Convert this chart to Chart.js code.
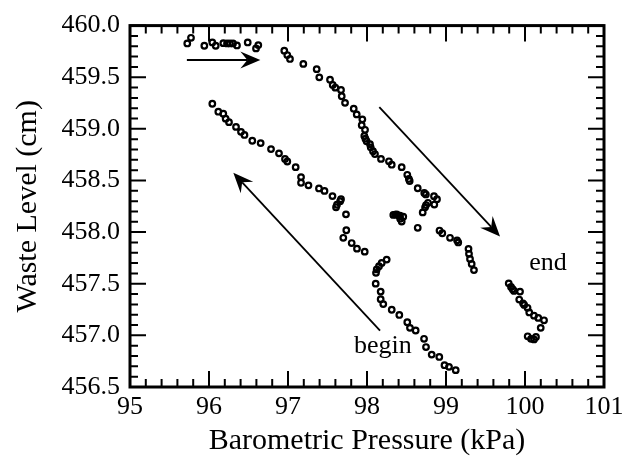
<!DOCTYPE html>
<html>
<head>
<meta charset="utf-8">
<script src="https://cdn.jsdelivr.net/npm/chart.js@4.4.0/dist/chart.umd.min.js"></script>
<style>
html,body{margin:0;padding:0;background:#fff;}
</style>
</head>
<body>
<canvas id="c" width="634" height="465"></canvas>
<script>
// Waste level vs barometric pressure

// =======================
// Data
const pressure = [
  99.123,99.038,98.981,98.915,98.819,98.747,98.722,98.616,98.544,98.510,98.409,98.313,98.206,98.173,98.173,98.110,
  98.114,98.123,98.152,98.186,98.249,97.971,97.873,97.806,97.700,97.738,97.734,97.608,97.620,97.660,97.671,97.563,
  97.462,97.392,97.259,97.165,97.165,97.097,96.991,96.962,96.886,96.785,96.654,96.548,96.449,96.405,96.342,96.253,
  96.211,96.181,96.118,96.042,
  95.725,95.772,95.941,96.042,96.085,96.181,96.228,96.266,96.304,96.354,96.490,96.595,96.624,
  96.953,96.991,97.025,97.194,97.363,97.396,97.532,97.566,97.599,97.671,97.680,97.722,97.832,97.870,97.941,97.933,
  97.975,97.966,97.980,97.995,98.038,98.047,98.076,98.101,98.177,98.278,98.313,98.439,98.510,98.530,98.540,98.642,
  98.725,98.745,98.848,98.886,98.852,98.772,98.747,98.735,98.705,
  98.333,98.355,98.376,98.400,98.418,98.459,98.439,98.420,98.642,98.918,98.953,99.051,99.140,99.155,99.285,99.291,
  99.304,99.325,99.354,
  99.794,99.823,99.844,99.861,99.937,99.927,99.975,99.990,100.032,100.054,100.114,100.168,100.241,100.199,100.034,
  100.076,100.139,100.114
];
const level = [
  456.663,456.695,456.711,456.791,456.814,456.887,456.967,457.047,457.073,457.127,457.198,457.248,457.303,457.351,457.424,457.501,
  457.606,457.639,457.670,457.702,457.734,457.811,457.840,457.894,457.945,458.018,458.172,458.241,458.265,458.300,458.319,458.349,
  458.399,458.423,458.453,458.478,458.533,458.629,458.684,458.709,458.763,458.804,458.862,458.885,458.941,458.971,459.019,459.065,
  459.099,459.147,459.166,459.243,
  459.827,459.882,459.805,459.837,459.805,459.830,459.827,459.827,459.827,459.808,459.837,459.779,459.811,
  459.757,459.715,459.677,459.629,459.578,459.499,459.476,459.425,459.399,459.377,459.316,459.252,459.195,459.140,459.092,459.036,
  458.991,458.931,458.905,458.880,458.852,458.821,458.784,458.756,458.709,458.686,458.653,458.629,458.555,458.515,458.495,458.425,
  458.380,458.365,458.348,458.319,458.267,458.284,458.262,458.240,458.191,
  458.166,458.170,458.172,458.160,458.159,458.150,458.102,458.130,458.042,458.015,457.989,457.945,457.920,457.900,457.838,457.790,
  457.740,457.692,457.632,
  457.504,457.469,457.447,457.430,457.424,457.347,457.310,457.295,457.267,457.222,457.191,457.169,457.146,457.073,456.991,
  456.967,456.985,456.961
];

// arrows: [x1, y1, x2(tip), y2(tip)] in data units
const arrows = [
  [95.72, 459.667, 96.65, 459.667],
  [98.156, 459.211, 99.684, 457.958],
  [98.165, 457.047, 96.308, 458.574]
];
const notes = [
  { text: 'begin', x: 98.20, y: 456.90 },
  { text: 'end', x: 100.29, y: 457.70 }
];

const FONT = "'Liberation Serif', 'Times New Roman', Times, serif";

// =======================
// Box round the plot with inward ticks
const boxPlugin = {
  id: 'plotBox',
  afterDraw(chart) {
    const ctx = chart.ctx;
    const a = chart.chartArea;
    const xs = chart.scales.x, ys = chart.scales.y;
    ctx.save();
    ctx.strokeStyle = 'black';
    ctx.lineWidth = 2;
    for (let i = 0; i <= 30; i++) {
      const px = xs.getPixelForValue(95 + i * 0.2);
      const len = (i % 5 === 0) ? 16 : 8;
      ctx.beginPath();
      ctx.moveTo(px, a.bottom); ctx.lineTo(px, a.bottom - len);
      ctx.moveTo(px, a.top); ctx.lineTo(px, a.top + len);
      ctx.stroke();
    }
    for (let i = 0; i <= 35; i++) {
      const py = ys.getPixelForValue(456.5 + i * 0.1);
      const len = (i % 5 === 0) ? 16 : 8;
      ctx.beginPath();
      ctx.moveTo(a.left, py); ctx.lineTo(a.left + len, py);
      ctx.moveTo(a.right, py); ctx.lineTo(a.right - len, py);
      ctx.stroke();
    }
    ctx.lineWidth = 3;
    ctx.strokeRect(a.left, a.top, a.right - a.left, a.bottom - a.top);
    ctx.restore();
  }
};

// =======================
// Arrows and notes
const notePlugin = {
  id: 'notes',
  afterDraw(chart) {
    const ctx = chart.ctx;
    const xs = chart.scales.x, ys = chart.scales.y;
    ctx.save();
    ctx.strokeStyle = 'black';
    ctx.fillStyle = 'black';
    ctx.lineWidth = 1.8;
    arrows.forEach(ar => {
      const x1 = xs.getPixelForValue(ar[0]), y1 = ys.getPixelForValue(ar[1]);
      const x2 = xs.getPixelForValue(ar[2]), y2 = ys.getPixelForValue(ar[3]);
      const ang = Math.atan2(y2 - y1, x2 - x1);
      const ux = Math.cos(ang), uy = Math.sin(ang);
      const nx = -uy, ny = ux;
      const L = 20, W = 8.5, N = 13;
      ctx.beginPath();
      ctx.moveTo(x1, y1);
      ctx.lineTo(x2 - N * ux, y2 - N * uy);
      ctx.stroke();
      ctx.beginPath();
      ctx.moveTo(x2, y2);
      ctx.lineTo(x2 - L * ux + W * nx, y2 - L * uy + W * ny);
      ctx.lineTo(x2 - N * ux, y2 - N * uy);
      ctx.lineTo(x2 - L * ux - W * nx, y2 - L * uy - W * ny);
      ctx.closePath();
      ctx.fill();
    });
    ctx.font = '26px ' + FONT;
    ctx.textAlign = 'center';
    ctx.textBaseline = 'middle';
    notes.forEach(n => {
      ctx.fillText(n.text, xs.getPixelForValue(n.x), ys.getPixelForValue(n.y));
    });
    ctx.restore();
  }
};

// =======================
// Chart
new Chart(document.getElementById('c'), {
  type: 'scatter',
  data: {
    datasets: [{
      data: pressure.map((p, i) => ({ x: p, y: level[i] })),
      pointStyle: 'circle',
      pointRadius: 2.8,
      borderWidth: 2.2,
      borderColor: 'black',
      backgroundColor: 'rgba(0,0,0,0)'
    }]
  },
  options: {
    responsive: false,
    animation: false,
    devicePixelRatio: 1,
    layout: { padding: { top: 22, right: 30, left: 0, bottom: 0 } },
    plugins: { legend: { display: false }, tooltip: { enabled: false } },
    scales: {
      x: {
        type: 'linear', min: 95, max: 101,
        grid: { display: false, drawTicks: false },
        border: { display: false },
        ticks: { stepSize: 1, color: 'black', padding: 5, font: { family: FONT, size: 26 } },
        title: { display: true, text: 'Barometric Pressure (kPa)', color: 'black',
                 font: { family: FONT, size: 30 }, padding: { top: 0, bottom: 6 } },
        afterFit: s => { s.height = 78; }
      },
      y: {
        type: 'linear', min: 456.5, max: 460,
        grid: { display: false, drawTicks: false },
        border: { display: false },
        ticks: { stepSize: 0.5, color: 'black', padding: 10, font: { family: FONT, size: 26 },
                 callback: v => v.toFixed(1) },
        title: { display: true, text: 'Waste Level (cm)', color: 'black',
                 font: { family: FONT, size: 30 }, padding: { top: 10, bottom: 0 } },
        afterFit: s => { s.width = 130; }
      }
    }
  },
  plugins: [boxPlugin, notePlugin]
});
</script>
</body>
</html>
